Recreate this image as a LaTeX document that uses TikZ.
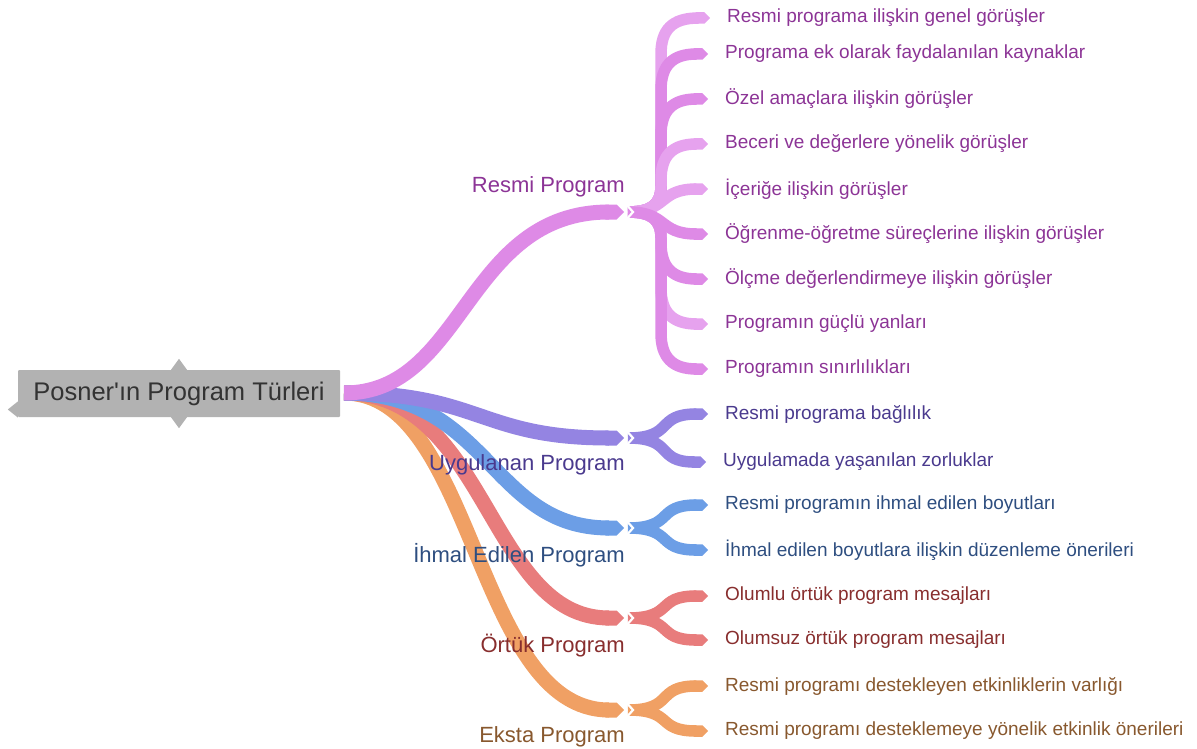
\documentclass[tikz,border=0pt]{standalone}
\usepackage{fontspec}
\setmainfont{Liberation Sans}
\usetikzlibrary{arrows.meta}
\definecolor{cR}{RGB}{222,138,230}
\definecolor{cRl}{RGB}{230,162,238}
\definecolor{tR}{RGB}{140,52,150}
\definecolor{cU}{RGB}{148,132,226}
\definecolor{tU}{RGB}{74,58,142}
\definecolor{cI}{RGB}{108,158,230}
\definecolor{tI}{RGB}{46,78,128}
\definecolor{cO}{RGB}{232,124,124}
\definecolor{tO}{RGB}{136,46,46}
\definecolor{cE}{RGB}{240,160,100}
\definecolor{tE}{RGB}{136,88,46}
\definecolor{rootgray}{RGB}{178,178,178}
\tikzset{
  mainbr/.style={line width=15pt,-{Triangle Cap[]}},
  subbr/.style={line width=11.5pt,-{Triangle Cap[]}},
  notch/.style={white,line width=2.2pt,line join=miter},
  leaf/.style={anchor=west,inner sep=0pt,font=\fontsize{19}{22}\selectfont},
  brlabel/.style={anchor=east,inner sep=0pt,font=\fontsize{22}{26}\selectfont},
}
\begin{document}
\begin{tikzpicture}[x=1pt,y=-1pt]
\useasboundingbox (0,0) rectangle (1197,749);
% root
\node[fill=rootgray,minimum width=322pt,minimum height=47pt,inner sep=0pt,rounded corners=1pt,
  text=black!80,font=\fontsize{25.5}{29}\selectfont] (root) at (179,393.5) {Posner\textquotesingle ın Program Türleri};
\fill[rootgray] ([xshift=-8pt]root.north) -- ++(8,-11) -- ++(8,11) -- cycle;
\fill[rootgray] ([xshift=-8pt]root.south) -- ++(8,11) -- ++(8,-11) -- cycle;
\fill[rootgray] ([yshift=-8pt]root.west) -- ++(-10,8) -- ++(10,8) -- cycle;
% junctions
\coordinate (jR) at (624,212);
\coordinate (jU) at (624,438);
\coordinate (jI) at (624,528);
\coordinate (jO) at (624,618);
\coordinate (jE) at (624,710);
\coordinate (rs) at (344,393);
% leaves
\node[leaf,text=tR] (r1) at (727,18) {Resmi programa ilişkin genel görüşler};
\node[leaf,text=tR] (r2) at (725,54) {Programa ek olarak faydalanılan kaynaklar};
\node[leaf,text=tR] (r3) at (725,99) {Özel amaçlara ilişkin görüşler};
\node[leaf,text=tR] (r4) at (725,144) {Beceri ve değerlere yönelik görüşler};
\node[leaf,text=tR] (r5) at (725,189) {İçeriğe ilişkin görüşler};
\node[leaf,text=tR] (r6) at (725,234) {Öğrenme-öğretme süreçlerine ilişkin görüşler};
\node[leaf,text=tR] (r7) at (725,279) {Ölçme değerlendirmeye ilişkin görüşler};
\node[leaf,text=tR] (r8) at (725,324) {Programın güçlü yanları};
\node[leaf,text=tR] (r9) at (725,369) {Programın sınırlılıkları};
\node[leaf,text=tU] (u1) at (725,414) {Resmi programa bağlılık};
\node[leaf,text=tU] (u2) at (723,462) {Uygulamada yaşanılan zorluklar};
\node[leaf,text=tI] (i1) at (725,505) {Resmi programın ihmal edilen boyutları};
\node[leaf,text=tI] (i2) at (725,550) {İhmal edilen boyutlara ilişkin düzenleme önerileri};
\node[leaf,text=tO] (o1) at (725,596) {Olumlu örtük program mesajları};
\node[leaf,text=tO] (o2) at (725,640) {Olumsuz örtük program mesajları};
\node[leaf,text=tE] (e1) at (725,686) {Resmi programı destekleyen etkinliklerin varlığı};
\node[leaf,text=tE] (e2) at (725,731) {Resmi programı desteklemeye yönelik etkinlik önerileri};
% main branches (drawn bottom first)
\draw[mainbr,cE] (rs) .. controls (475,393) and (475,710) .. (jE);
\draw[mainbr,cO] (rs) .. controls (488,393) and (488,618) .. (jO);
\draw[mainbr,cI] (rs) .. controls (490,393) and (490,528) .. (jI);
\draw[mainbr,cU] (rs) .. controls (480,393) and (480,438) .. (jU);
\draw[mainbr,cR] (rs) .. controls (465,393) and (465,212) .. (jR);
% sub branches of Resmi Program (vertical trunk)
\foreach \n/\y/\s/\c in {r1/18/-1/cRl,r2/54/-1/cR,r3/99/-1/cR,r4/144/-1/cRl,r7/279/1/cR,r8/324/1/cRl,r9/369/1/cR}{
  \draw[subbr,\c] ([xshift=4pt]jR) .. controls (652,212) and (661,212+\s*8) .. (661,212+\s*26)
    -- (661,\y-\s*36) .. controls (661,\y-\s*12) and (672,\y) .. ([xshift=-17pt]\n.west);
}
\foreach \n/\c in {r5/cRl,r6/cR}{
  \draw[subbr,\c] ([xshift=4pt]jR) .. controls (668,212) and (658,0|-\n.west) .. ([xshift=-17pt]\n.west);
}
% sub branches of the other groups (Y forks)
\foreach \j/\n/\c in {jU/u1/cU,jU/u2/cU,jI/i1/cI,jI/i2/cI,jO/o1/cO,jO/o2/cO,jE/e1/cE,jE/e2/cE}{
  \draw[subbr,\c] ([xshift=4pt]\j) .. controls (675,0|-\j) and (655,0|-\n.west) .. ([xshift=-17pt]\n.west);
}
% notches
\foreach \j in {jR,jU,jI,jO,jE}{
  \draw[notch] ([xshift=1pt,yshift=-9pt]\j) -- ([xshift=9pt]\j) -- ([xshift=1pt,yshift=9pt]\j);
}
% branch labels (on top of the ribbons)
\node[brlabel,text=tR] (lR) at (625,187) {Resmi Program};
\node[brlabel,text=tU] (lU) at (625,465) {Uygulanan Program};
\node[brlabel,text=tI] (lI) at (625,555) {İhmal Edilen Program};
\node[brlabel,text=tO] (lO) at (625,646) {Örtük Program};
\node[brlabel,text=tE] (lE) at (625,737) {Eksta Program};
\end{tikzpicture}
\end{document}
